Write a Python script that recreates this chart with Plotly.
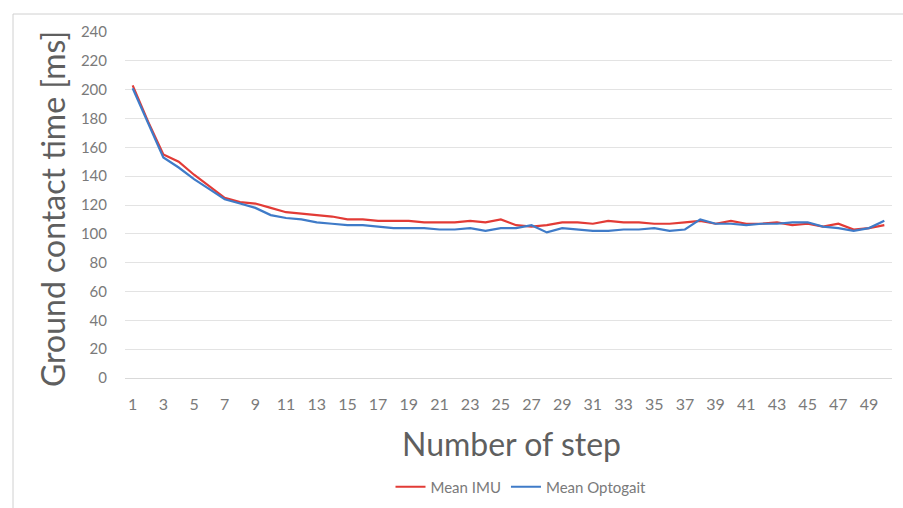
import plotly.graph_objects as go

steps = list(range(1, 51))
mean_imu = [203, 178, 155, 150, 141, 133, 125, 122, 121, 118,
            115, 114, 113, 112, 110, 110, 109, 109, 109, 108,
            108, 108, 109, 108, 110, 106, 105, 106, 108, 108,
            107, 109, 108, 108, 107, 107, 108, 109, 107, 109,
            107, 107, 108, 106, 107, 105, 107, 103, 104, 106]
mean_optogait = [201, 177, 153, 146, 138, 131, 124, 121, 118, 113,
                 111, 110, 108, 107, 106, 106, 105, 104, 104, 104,
                 103, 103, 104, 102, 104, 104, 106, 101, 104, 103,
                 102, 102, 103, 103, 104, 102, 103, 110, 107, 107,
                 106, 107, 107, 108, 108, 105, 104, 102, 104, 109]
x_ticks = list(range(1, 51, 2))
y_ticks = list(range(0, 241, 20))

FONT = "Lato, 'Open Sans', sans-serif"
GRAY = "#5f5f5f"
TICKGRAY = "#7a7a7a"

L, R, T, B = 125, 892, 32, 378
W_PLOT, H_PLOT = R - L, B - T


def px_x(px):
    return (px - L) / W_PLOT


def px_y(py):
    return (B - py) / H_PLOT


fig = go.Figure()
fig.add_trace(go.Scatter(x=steps, y=mean_imu, mode="lines", name="Mean IMU",
                         line=dict(color="#e23b36", width=2.2)))
fig.add_trace(go.Scatter(x=steps, y=mean_optogait, mode="lines", name="Mean Optogait",
                         line=dict(color="#3f7bc8", width=2.2)))

fig.update_layout(
    width=903, height=508,
    margin=dict(l=L, r=903 - R, t=T, b=508 - B, autoexpand=False),
    paper_bgcolor="white", plot_bgcolor="white",
    font=dict(family=FONT, color=GRAY),
    showlegend=True,
    legend=dict(orientation="h", x=px_x(521), xanchor="center", y=px_y(487), yanchor="middle",
                font=dict(size=15, color=TICKGRAY), tracegroupgap=0),
    xaxis=dict(range=[0.5, 50.5], tickmode="array", tickvals=x_ticks,
               ticktext=[str(v) for v in x_ticks], showgrid=False, zeroline=False,
               showline=True, linecolor="#d9d9d9", ticks="",
               tickfont=dict(size=16, color=TICKGRAY), ticklabelstandoff=12),
    yaxis=dict(range=[0, 240], tickmode="array", tickvals=y_ticks,
               showgrid=True, gridcolor="#e3e3e3", gridwidth=1, zeroline=False,
               showline=False, ticks="", tickfont=dict(size=15, color=TICKGRAY),
               ticklabelstandoff=17),
    annotations=[
        dict(text="Ground contact time [ms]", xref="paper", yref="paper",
             x=px_x(52), y=px_y(209), xanchor="center", yanchor="middle",
             textangle=-90, showarrow=False, font=dict(size=32, color=GRAY, family=FONT)),
        dict(text="Number of step", xref="paper", yref="paper",
             x=px_x(512), y=px_y(443), xanchor="center", yanchor="middle",
             showarrow=False, font=dict(size=32, color=GRAY, family=FONT)),
    ],
    shapes=[
        dict(type="rect", xref="paper", yref="paper",
             x0=px_x(13), x1=px_x(915),
             y0=px_y(520), y1=px_y(14),
             line=dict(color="#d0d0d0", width=1), fillcolor="rgba(0,0,0,0)", layer="below"),
    ],
)

fig.write_html("out.html", config={"displayModeBar": False},
               post_script="document.body.style.margin='0px';")
